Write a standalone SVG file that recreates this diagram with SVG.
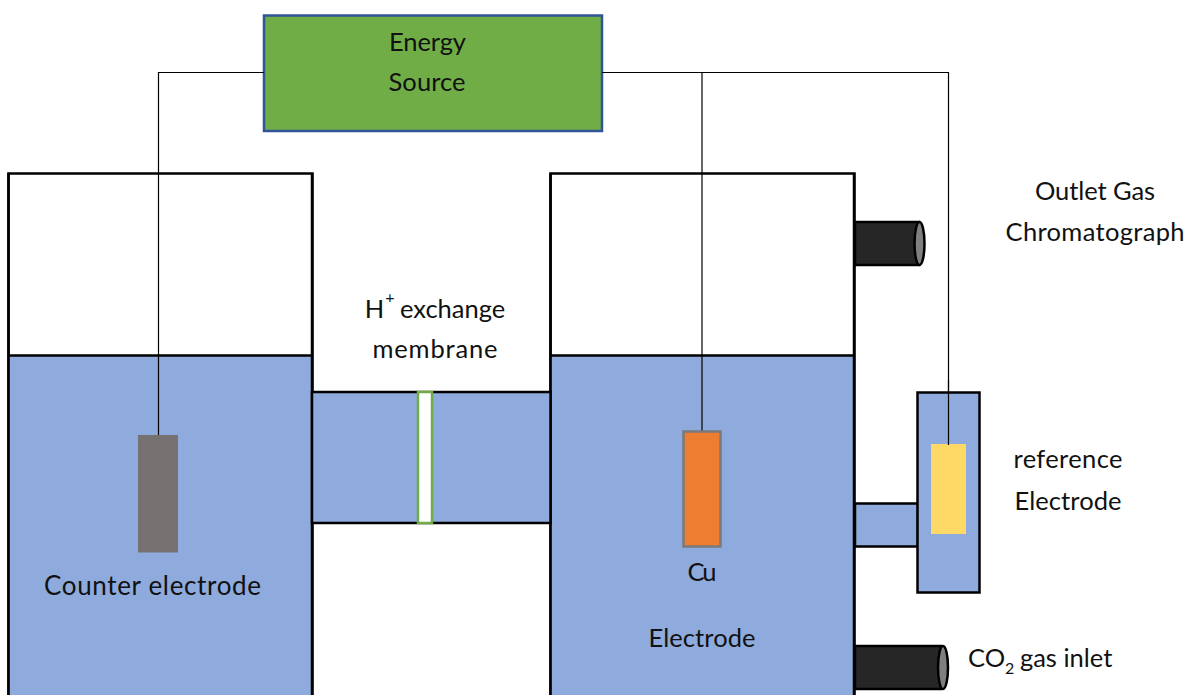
<svg xmlns="http://www.w3.org/2000/svg" width="1187" height="695" viewBox="0 0 1187 695">
<style>
.o{stroke:#000;stroke-width:2.5}
.b{fill:#8faadc}
.w{fill:#fff}
.wire{fill:none;stroke:#000;stroke-width:1.2}
.t{font-family:Lato,"Open Sans",sans-serif;font-size:25.5px;fill:#111;text-anchor:middle}
.tube{fill:#262626;stroke:#000;stroke-width:2.5}
.cap{fill:#7f7f7f;stroke:#000;stroke-width:2.5}
</style>
<rect width="1187" height="695" fill="#fff"/>
<g id="left-cell">
<rect class="w" x="8.5" y="173.500" width="304" height="540" stroke="#000" stroke-width="2.500"/>
<rect class="b" x="9.500" y="356" width="302" height="350"/>
<line class="o" x1="8" y1="355.500" x2="313" y2="355.500"/>
<line class="o" x1="8.500" y1="173" x2="8.500" y2="695"/>
<line class="o" x1="312" y1="173" x2="312" y2="695"/>
</g>
<g id="right-cell">
<rect class="w" x="550.500" y="173.500" width="304" height="540" stroke="#000" stroke-width="2.500"/>
<rect class="b" x="551.500" y="356" width="302" height="350"/>
<line class="o" x1="550" y1="355.500" x2="855" y2="355.500"/>
<line class="o" x1="550.500" y1="173" x2="550.500" y2="695"/>
<line class="o" x1="854" y1="173" x2="854" y2="695"/>
</g>
<g id="bridge">
<rect class="b o" x="312" y="392" width="238.500" height="131"/>
</g>
<g id="membrane">
<rect x="418" y="392" width="14" height="131" fill="#fff" stroke="#70ad47" stroke-width="2.500"/>
</g>
<g id="energy-source">
<rect x="264" y="15.500" width="338" height="115.500" fill="#70ad47" stroke="#2f5597" stroke-width="2.500"/>
<text class="t" x="427.500" y="51" textLength="77">Energy</text>
<text class="t" x="427" y="91" textLength="77">Source</text>
</g>
<g id="connectors">
<path class="wire" d="M264 72.500H158.500V436"/>
<path class="wire" d="M602 72.500H948.500V445"/>
<path class="wire" d="M702 72.500V432"/>
</g>
<g id="counter-electrode">
<rect x="138" y="435" width="40" height="117.500" fill="#767171"/>
<text class="t" x="152.500" y="594.500" style="font-size:26px" textLength="217">Counter electrode</text>
</g>
<g id="cu-electrode">
<rect x="683.500" y="431.500" width="37" height="115" fill="#ed7d31" stroke="#7a7a7a" stroke-width="2.500"/>
<text class="t" x="702" y="581" textLength="29">Cu</text>
<text class="t" x="702" y="647" textLength="107">Electrode</text>
</g>
<g id="outlet-tube">
<path class="tube" d="M855 222H919V265H855Z"/>
<ellipse class="cap" cx="919.500" cy="243.500" rx="5" ry="21.500"/>
<text class="t" x="1095" y="200" textLength="120">Outlet Gas</text>
<text class="t" x="1095" y="241" textLength="179">Chromatograph</text>
</g>
<g id="inlet-tube">
<path class="tube" d="M855 646H941V689H855Z"/>
<ellipse class="cap" cx="943" cy="667.500" rx="5" ry="21.500"/>
<text class="t" x="968" y="667" style="text-anchor:start">CO<tspan font-size="16" dy="7">2</tspan><tspan dy="-7" dx="-1"> gas inlet</tspan></text>
</g>
<g id="side-arm">
<rect class="b o" x="855" y="503.500" width="63" height="43"/>
</g>
<g id="reference-electrode">
<rect class="b o" x="917.500" y="392.500" width="62" height="200"/>
<rect x="931" y="444" width="35" height="90" fill="#ffd966"/>
<line class="wire" x1="948.500" y1="380" x2="948.500" y2="445"/>
<text class="t" x="1068" y="468" textLength="109">reference</text>
<text class="t" x="1068" y="510" textLength="107">Electrode</text>
</g>
<g id="membrane-label">
<text class="t" x="435" y="318">H<tspan font-size="16" dy="-15" dx="1">+</tspan><tspan dy="15" dx="-1"> exchange</tspan></text>
<text class="t" x="435" y="358" textLength="125">membrane</text>
</g>
</svg>
